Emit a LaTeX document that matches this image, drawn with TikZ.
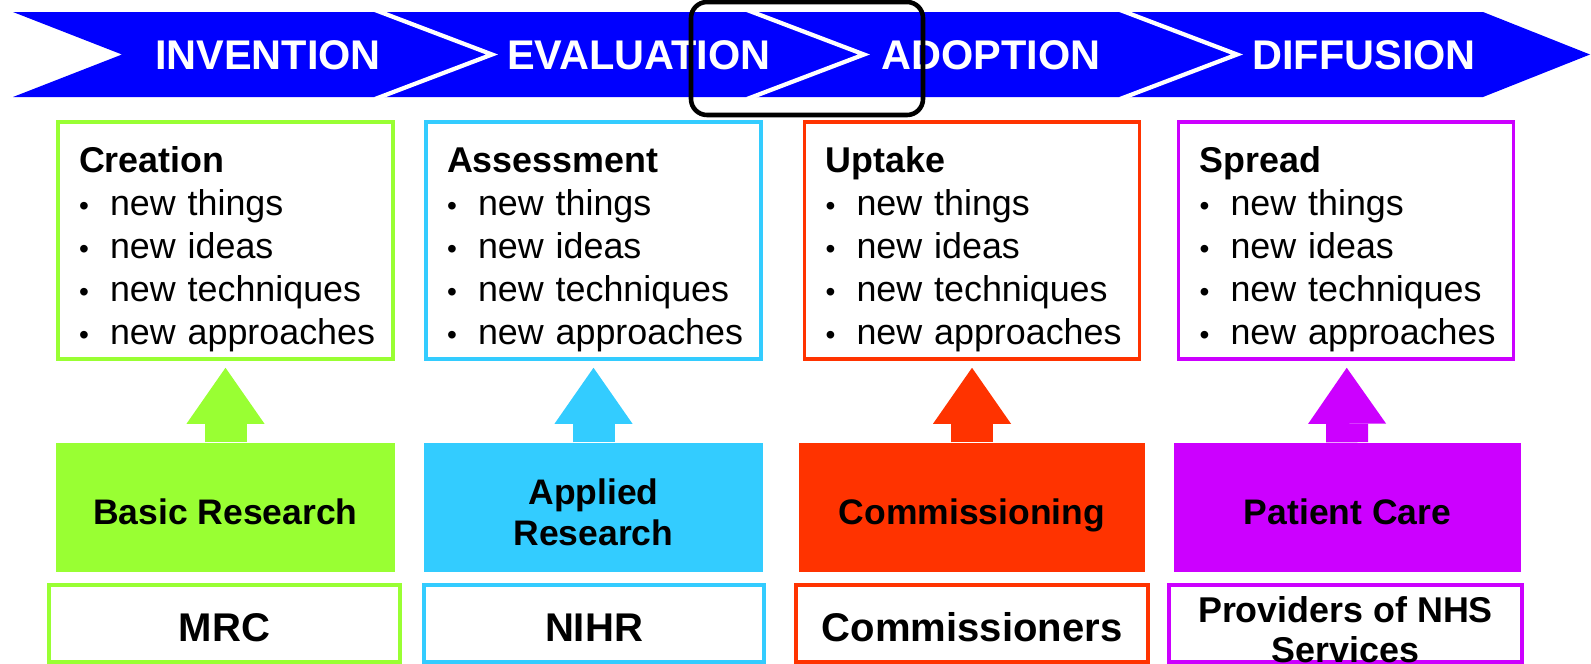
\documentclass[tikz,border=0pt]{standalone}
\usepackage{fontspec}
\setmainfont{Liberation Sans}
\usetikzlibrary{arrows.meta}
\hyphenpenalty=10000
\definecolor{bannerblue}{RGB}{0,0,255}
\definecolor{basicgreen}{RGB}{153,255,51}
\definecolor{appliedcyan}{RGB}{51,204,255}
\definecolor{commred}{RGB}{255,51,0}
\definecolor{carepurple}{RGB}{204,0,255}
\tikzset{
	stage/.style={text=white,inner sep=0pt,font=\fontsize{11.8}{12}\selectfont\bfseries},
	outcome/.style={draw=#1,line width=1pt,minimum height=2.37cm,text width=3.01cm,inner xsep=0.17cm,inner ysep=0pt,align=left,font=\fontsize{10.2}{12.2}\selectfont},
	sector/.style={fill=#1,minimum width=3.39cm,minimum height=1.29cm,inner sep=0pt,align=center,font=\fontsize{10.1}{11.6}\selectfont\bfseries},
	oneline/.style={text height=#1,text depth=0pt},
	funder/.style={draw=#1,line width=1.2pt,minimum width=3.51cm,minimum height=0.77cm,inner sep=0pt,align=center,font=\fontsize{11.4}{11.4}\selectfont\bfseries},
	lift/.style={draw=#1,line width=0.42cm,-{Triangle[width=0.78cm,length=0.56cm,line width=0pt]},shorten >=0.07cm}
}
\newcommand{\ttl}[1]{\rule{0pt}{0.43cm}\hspace*{0.04cm}\textbf{#1}}
\newcommand{\itm}[1]{\\\hspace*{0.04cm}\makebox[0.31cm][l]{\footnotesize\textbullet}#1}
\begin{document}
\begin{tikzpicture}
	\useasboundingbox (0,0) rectangle (15.91,6.63);
	\fill[bannerblue] (0.13,6.51) -- (14.83,6.51) -- (15.90,6.085) -- (14.83,5.66) -- (0.13,5.66) -- (1.22,6.085) -- cycle;
	\foreach \sx in {3.75,7.47,11.20}
		\draw[white,line width=1.2pt] (\sx,6.53) -- (\sx+1.17,6.085) -- (\sx,5.64);
	\node[stage] (inv) at (2.68,6.08) {INVENTION};
	\node[stage] (eva) at (6.39,6.08) {EVALUATION};
	\node[stage] (ado) at (9.91,6.08) {ADOPTION};
	\node[stage] (dif) at (13.64,6.08) {DIFFUSION};
	\draw[line width=1.3pt,rounded corners=0.16cm] (6.91,6.61) rectangle (9.23,5.48);

	\node[outcome=basicgreen] (cre) at (2.255,4.225) {\ttl{Creation}\itm{new things}\itm{new ideas}\itm{new techniques}\itm{new approaches}};
	\node[outcome=appliedcyan] (ass) at (5.935,4.225) {\ttl{Assessment}\itm{new things}\itm{new ideas}\itm{new techniques}\itm{new approaches}};
	\node[outcome=commred] (upt) at (9.72,4.225) {\ttl{Uptake}\itm{new things}\itm{new ideas}\itm{new techniques}\itm{new approaches}};
	\node[outcome=carepurple] (spr) at (13.46,4.225) {\ttl{Spread}\itm{new things}\itm{new ideas}\itm{new techniques}\itm{new approaches}};

	\node[sector=basicgreen,oneline=0.345cm] (bas) at (2.255,1.555) {Basic Research};
	\node[sector=appliedcyan] (app) at (5.935,1.555) {\raisebox{-0.09cm}[\height][\depth]{\begin{tabular}{@{}c@{}}Applied\\Research\end{tabular}}};
	\node[sector=commred,oneline=0.345cm,minimum width=3.46cm] (com) at (9.72,1.555) {Commissioning};
	\node[sector=carepurple,oneline=0.345cm,minimum width=3.47cm] (pat) at (13.475,1.555) {Patient Care};

	\draw[lift=basicgreen] (bas) -- (cre);
	\draw[lift=appliedcyan] (app) -- (ass);
	\draw[lift=commred] (com) -- (upt);
	\draw[lift=carepurple] (pat) -- (spr);

	\node[funder=basicgreen,oneline=0.35cm] (mrc) at (2.245,0.395) {MRC};
	\node[funder=appliedcyan,oneline=0.35cm,minimum width=3.40cm] (nihr) at (5.94,0.395) {NIHR};
	\node[funder=commred,oneline=0.35cm,minimum width=3.52cm] (cms) at (9.72,0.395) {Commissioners};
	\node[funder=carepurple,minimum width=3.53cm,label={[align=center,inner sep=0pt,yshift=-0.06cm,font=\fontsize{10.2}{11.4}\selectfont\bfseries]center:Providers of NHS\\Services}] (prov) at (13.455,0.395) {};
\end{tikzpicture}
\end{document}
